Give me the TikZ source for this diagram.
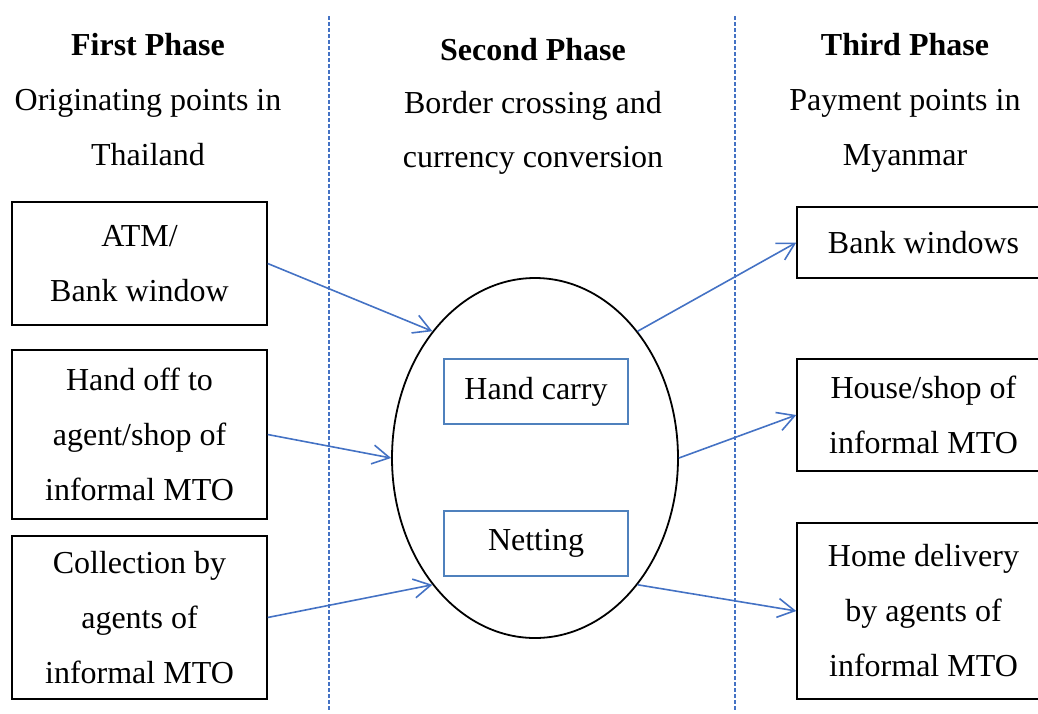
\documentclass[tikz,border=0pt]{standalone}
\usepackage{fontspec}
\setmainfont{Liberation Serif}
\usetikzlibrary{arrows.meta,shapes.geometric}

\definecolor{lineblue}{RGB}{68,114,196}
\definecolor{boxblue}{RGB}{79,129,189}

\begin{document}
\begin{tikzpicture}[x=0.5pt, y=-0.5pt, font=\fontsize{16}{27.5}\selectfont,
		box/.style={draw, line width=0.7pt, align=center, inner sep=0pt},
		inbox/.style={draw=boxblue, line width=0.7pt, minimum width=92pt, minimum height=32.5pt},
		flow/.style={draw=lineblue, line width=0.8pt, -{Straight Barb[length=8.5pt,width=9.5pt]}}]
			\useasboundingbox (0,0) rectangle (1038,713);
			\clip (0,0) rectangle (1038,713);
			
			\coordinate (S1) at (329,16);
			\coordinate (S2) at (329,710);
			\coordinate (T1) at (735,16);
			\coordinate (T2) at (735,710);
			\draw[lineblue, line width=0.65pt, dash pattern=on 2pt off 1pt] (S1)--(S2);
			\draw[lineblue, line width=0.65pt, dash pattern=on 2pt off 1pt] (T1)--(T2);
			
			% column headings
			\foreach \n/\x/\y/\t in {p1a/148/55/\textbf{First Phase}, p1b/148/110/Originating points in, p1c/148/165/Thailand,
				p2a/533/60/\textbf{Second Phase}, p2b/533/113/Border crossing and, p2c/533/167/currency conversion,
				p3a/905/55/\textbf{Third Phase}, p3b/905/110/Payment points in, p3c/905/165/Myanmar} {
				\node[anchor=base] (\n) at (\x,\y) {\t};
			}
			
			% originating points
			\node[box, minimum width=127.5pt, minimum height=61.5pt] (atm) at (139.5,263.5) {ATM/\\Bank window};
			\node[box, minimum width=127.5pt, minimum height=84.5pt] (handoff) at (139.5,434.5) {Hand off to\\agent/shop of\\informal MTO};
			\node[box, minimum width=127.5pt, minimum height=81.5pt] (collect) at (139.5,617.5) {Collection by\\agents of\\informal MTO};
			
			% crossing
			\node[draw, ellipse, line width=0.9pt, inner sep=0pt, minimum width=143pt, minimum height=180pt] (chan) at (535,458) {};
			\node[inbox] (carry) at (536,391.5) {Hand carry};
			\node[inbox] (net) at (536,543.5) {Netting};
			
			% payment points
			\node[box, minimum width=126.5pt, minimum height=35.5pt] (bank) at (923.5,242.5) {Bank windows};
			\node[box, minimum width=126.5pt, minimum height=56pt] (house) at (923.5,415) {House/shop of\\informal MTO};
			\node[box, minimum width=126.5pt, minimum height=88pt] (home) at (923.5,611) {Home delivery\\by agents of\\informal MTO};
			
			\foreach \a/\b in {atm.east/chan.129, handoff.east/chan.180, collect.east/chan.231,
				chan.51/bank.west, chan.0/house.west, chan.309/home.west} {
				\draw[flow] (\a)--(\b);
			}
		\end{tikzpicture}
\end{document}
